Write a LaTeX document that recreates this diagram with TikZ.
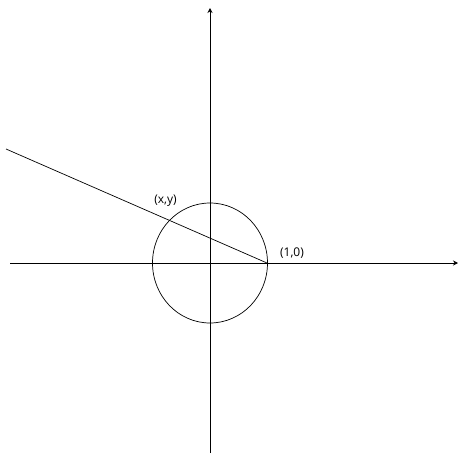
\documentclass[tikz,border=0pt]{standalone}
\usepackage{fontspec}
\setmainfont{Open Sans}
\usetikzlibrary{arrows.meta}

\tikzset{
    axis/.style={line width=0.8pt, -{Stealth[length=5pt, width=5pt]}},
    coordlabel/.style={font=\fontsize{12}{13}\selectfont, inner sep=0pt},
}

\begin{document}
\begin{tikzpicture}[x=1pt, y=-1pt, line width=0.7pt]
    \useasboundingbox
        (0,0) rectangle (459,455)
        ;

    \coordinate (O) at (210,263);
    \coordinate (P) at (267,263);
    \coordinate (far) at (6,149);

    \draw [axis]
        (10,263) -- (458,263)
        ;

    \draw [axis]
        (210,453) -- (210,8)
        ;

    \draw
        (O) ellipse [x radius=57.5, y radius=60]
        ;

    \draw
        (P) -- (far)
        ;

    \node [coordlabel] (xy) at (165.5,201) {(x,y)};
    \node [coordlabel] (one) at (292,253) {(1,0)};
\end{tikzpicture}
\end{document}
